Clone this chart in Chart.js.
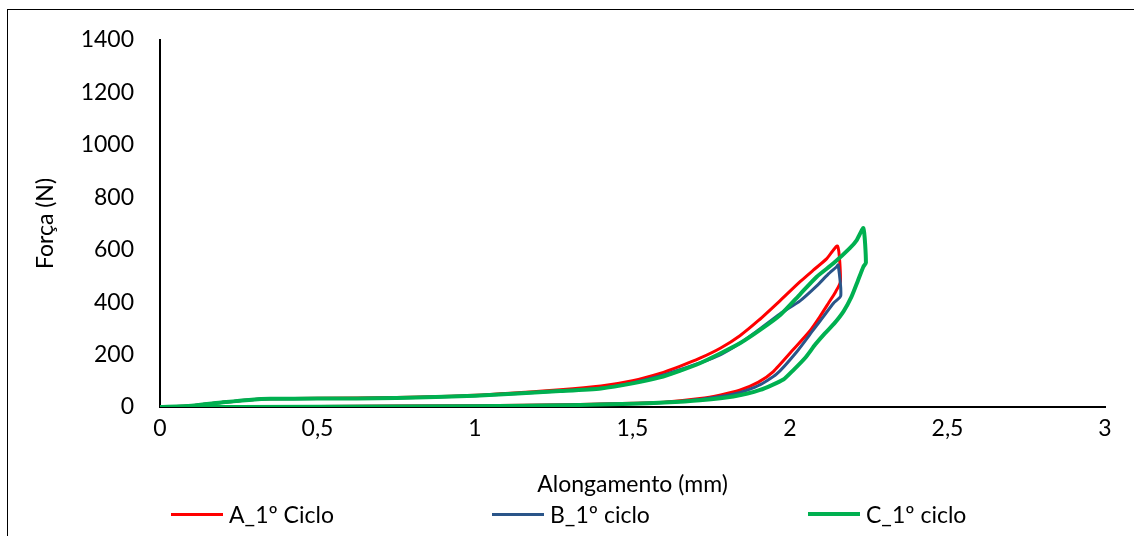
<!DOCTYPE html>
<html>
<head>
<meta charset="utf-8">
<script src="https://cdn.jsdelivr.net/npm/chart.js@4"></script>
<style>
    html, body { margin: 0; padding: 0; background: #fff; }
    #wrap { position: relative; width: 1134px; height: 536px; overflow: hidden; font-family: Lato, sans-serif; }
    #frame { position: absolute; left: 7px; top: 9px; width: 1140px; height: 540px; border: 1px solid #000; box-sizing: border-box; }
    #chart-box { position: absolute; left: 0; top: 0; width: 1134px; height: 536px; }
    .legend-item { position: absolute; top: 501px; height: 26px; display: flex; align-items: center; font-size: 23px; color: #000; white-space: nowrap; }
    .legend-line { width: 52px; margin-right: 6px; }
</style>
</head>
<body>
<div id="wrap">
    <div id="frame"></div>
    <div id="chart-box"><canvas id="chart-loop"></canvas></div>
    <div id="legend"></div>
</div>
<script>
// A_1º Ciclo
const aX = [0, 0.1, 0.2, 0.3, 0.35, 0.5, 0.75, 1.0, 1.27, 1.4, 1.5, 1.587, 1.65, 1.714, 1.78, 1.841, 1.9, 1.968, 2.032, 2.074, 2.116, 2.151, 2.16, 2.145, 2.122, 2.095, 2.063, 2.011, 1.947, 1.9, 1.84, 1.78, 1.714, 1.6, 1.5, 1.3, 1.0, 0.5, 0];
const aY = [0, 5, 18, 29, 31, 33, 36, 45, 66, 80, 100, 128, 155, 186, 225, 272, 330, 405, 478, 522, 565, 614, 478, 440, 396, 345, 290, 220, 135, 95, 64, 46, 32, 18, 14, 9, 5, 2, 0];

// B_1º ciclo
const bX = [0, 0.1, 0.2, 0.3, 0.35, 0.5, 0.75, 1.0, 1.27, 1.4, 1.5, 1.587, 1.65, 1.714, 1.78, 1.841, 1.9, 1.968, 2.032, 2.085, 2.12, 2.148, 2.153, 2.161, 2.138, 2.106, 2.074, 2.021, 1.957, 1.9, 1.84, 1.78, 1.714, 1.6, 1.5, 1.3, 1.0, 0.5, 0];
const bY = [0, 5, 18, 29, 31, 32, 34, 43, 61, 72, 92, 118, 142, 168, 200, 243, 294, 355, 405, 462, 505, 535, 542, 424, 396, 345, 294, 210, 125, 82, 55, 40, 29, 17, 13, 8, 4, 2, 0];

// C_1º ciclo
const cX = [0, 0.1, 0.2, 0.3, 0.35, 0.5, 0.75, 1.0, 1.27, 1.4, 1.5, 1.587, 1.65, 1.714, 1.78, 1.841, 1.905, 1.97, 2.032, 2.085, 2.138, 2.19, 2.212, 2.233, 2.241, 2.233, 2.215, 2.195, 2.17, 2.14, 2.11, 2.08, 2.05, 2.01, 1.979, 1.905, 1.82, 1.714, 1.6, 1.5, 1.3, 1.0, 0.5, 0];
const cY = [0, 5, 18, 29, 31, 32, 34, 43, 61, 71, 90, 113, 138, 167, 205, 243, 294, 352, 430, 497, 548, 606, 637, 682, 550, 535, 480, 420, 365, 318, 280, 238, 190, 140, 105, 65, 40, 26, 17, 12, 7, 3, 1, 0];

const seriesNames = ['A_1º Ciclo', 'B_1º ciclo', 'C_1º ciclo'];
const xTickLabels = ['0', '0,5', '1', '1,5', '2', '2,5', '3'];
const yTickLabels = ['0', '200', '400', '600', '800', '1000', '1200', '1400'];

const colors = ['#ff0000', '#2a5589', '#00b050'];
const widths = [3, 3, 4];
const legendLeft = [171, 492, 808];

const toPoints = (xs, ys) => xs.map((x, i) => ({ x, y: ys[i] }));

const fontFamily = 'Lato, sans-serif';
const tickFont = { family: fontFamily, size: 23 };

const datasets = [[aX, aY], [bX, bY], [cX, cY]].map(([xs, ys], i) => ({
    label: seriesNames[i],
    data: toPoints(xs, ys),
    borderColor: colors[i],
    backgroundColor: colors[i],
    borderWidth: widths[i],
    pointRadius: 0,
    showLine: true,
    tension: 0.2,
    fill: false,
    order: 2 - i,
}));

new Chart(document.getElementById('chart-loop'), {
    type: 'scatter',
    data: { datasets },
    options: {
        responsive: true,
        maintainAspectRatio: false,
        animation: false,
        layout: { padding: { left: 30, top: 40, right: 29, bottom: 36 } },
        plugins: {
            legend: { display: false },
            tooltip: { enabled: false },
        },
        scales: {
            x: {
                type: 'linear',
                min: 0,
                max: 3,
                ticks: {
                    stepSize: 0.5,
                    color: '#000',
                    font: tickFont,
                    padding: 8,
                    maxRotation: 0,
                    callback: (_value, index) => xTickLabels[index],
                },
                grid: { display: false, drawTicks: false },
                border: { display: true, color: '#000', width: 2 },
                title: {
                    display: true,
                    text: 'Alongamento (mm)',
                    color: '#000',
                    font: tickFont,
                    padding: { top: 0, bottom: 2 },
                },
                afterFit: (scale) => { scale.height = 93; },
            },
            y: {
                min: 0,
                max: 1400,
                ticks: {
                    stepSize: 200,
                    color: '#000',
                    font: tickFont,
                    padding: 26,
                    callback: (_value, index) => yTickLabels[index],
                },
                grid: { display: false, drawTicks: false },
                border: { display: true, color: '#000', width: 2 },
                title: {
                    display: true,
                    text: 'Força (N)',
                    color: '#000',
                    font: tickFont,
                    padding: { top: 2, bottom: 0 },
                },
                afterFit: (scale) => { scale.width = 130; },
            },
        },
    },
});

const legend = document.getElementById('legend');
seriesNames.forEach((name, i) => {
    const item = document.createElement('div');
    item.className = 'legend-item';
    item.style.left = legendLeft[i] + 'px';
    const line = document.createElement('span');
    line.className = 'legend-line';
    line.style.height = widths[i] + 'px';
    line.style.background = colors[i];
    const text = document.createElement('span');
    text.textContent = name;
    item.appendChild(line);
    item.appendChild(text);
    legend.appendChild(item);
});
</script>
</body>
</html>
